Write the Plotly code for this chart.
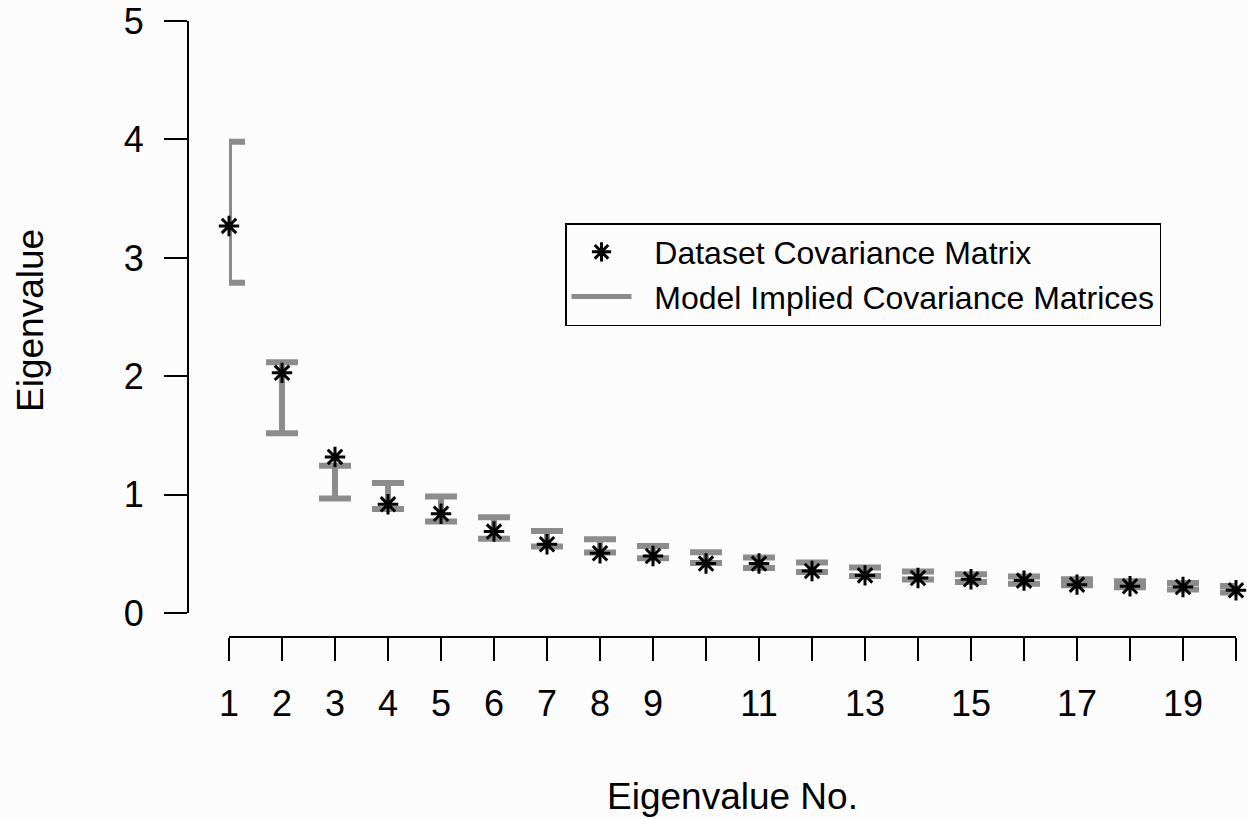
import plotly.graph_objects as go

# ---- data ----
eig_no = list(range(1, 21))
dataset_eig = [3.27, 2.03, 1.32, 0.92, 0.84, 0.69, 0.583, 0.507, 0.484, 0.42,
               0.42, 0.357, 0.32, 0.298, 0.287, 0.276, 0.242, 0.228, 0.222, 0.194]
model_upper = [3.98, 2.12, 1.245, 1.10, 0.985, 0.81, 0.695, 0.625, 0.568, 0.515,
               0.47, 0.428, 0.386, 0.352, 0.33, 0.31, 0.287, 0.27, 0.256, 0.23]
model_lower = [2.79, 1.52, 0.97, 0.88, 0.775, 0.63, 0.563, 0.513, 0.465, 0.425,
               0.383, 0.349, 0.315, 0.285, 0.265, 0.25, 0.236, 0.22, 0.2, 0.175]
x_tick_labels = ["1", "2", "3", "4", "5", "6", "7", "8", "9", "",
                 "11", "", "13", "", "15", "", "17", "", "19", ""]
y_tick_vals = [0, 1, 2, 3, 4, 5]
y_tick_labels = ["0", "1", "2", "3", "4", "5"]

GRAY = "#8c8c8c"
BG = "#fcfcfc"
FONT = "Liberation Sans"

W, H = 1247, 819
L, R, T, B = 188, 11, 21, 182
PW = W - L - R
PH = H - T - B


def px_x(p):
    return (p - L) / PW


def px_y(p):
    return (H - B - p) / PH


fig = go.Figure()

# model-implied ranges as error bars
fig.add_trace(go.Scatter(
    x=eig_no, y=model_lower, mode="markers",
    marker=dict(opacity=0, size=1),
    error_y=dict(type="data", symmetric=False,
                 array=[u - l for u, l in zip(model_upper, model_lower)],
                 arrayminus=[0] * len(model_lower),
                 color=GRAY, thickness=6, width=16),
    showlegend=False, hoverinfo="skip", cliponaxis=False,
))

# dataset eigenvalues
fig.add_trace(go.Scatter(
    x=eig_no, y=dataset_eig, mode="markers",
    marker=dict(symbol="asterisk-open", size=17, color="black",
                line=dict(color="black", width=3)),
    name="\u00a0\u00a0Dataset Covariance Matrix", cliponaxis=False,
))

# legend entry for the model-implied matrices
fig.add_trace(go.Scatter(
    x=[None], y=[None], mode="lines",
    line=dict(color=GRAY, width=5),
    name="\u00a0\u00a0Model Implied Covariance Matrices",
))

axis_common = dict(
    showline=True, linecolor="black", linewidth=2,
    ticks="outside", ticklen=23, tickwidth=2, tickcolor="black",
    showgrid=False, zeroline=False, automargin=False, fixedrange=True,
    anchor="free", position=0,
)

fig.update_layout(
    width=W, height=H,
    margin=dict(l=L, r=R, t=T, b=B, pad=0),
    paper_bgcolor=BG, plot_bgcolor=BG,
    font=dict(family=FONT, color="black", size=36),
    xaxis=dict(domain=[px_x(229), 1], range=[1, 20],
               tickvals=eig_no, ticktext=x_tick_labels,
               tickfont=dict(size=36), ticklabelstandoff=12, **axis_common),
    yaxis=dict(domain=[px_y(613.3), 1], range=[0, 5],
               tickvals=y_tick_vals, ticktext=y_tick_labels,
               tickfont=dict(size=36), ticklabelstandoff=13, **axis_common),
    legend=dict(x=px_x(565), y=px_y(223), xanchor="left", yanchor="top",
                bordercolor="black", borderwidth=1.5, bgcolor=BG,
                font=dict(size=32, family=FONT), itemwidth=60),
    annotations=[
        dict(text="Eigenvalue", x=px_x(30), y=px_y(321), xref="paper", yref="paper",
             textangle=-90, showarrow=False, xanchor="center", yanchor="middle",
             font=dict(size=37, family=FONT)),
        dict(text="Eigenvalue No.", x=px_x(732.5), y=px_y(796), xref="paper", yref="paper",
             showarrow=False, xanchor="center", yanchor="middle",
             font=dict(size=37, family=FONT)),
    ],
)

fig.write_html("out.html")
